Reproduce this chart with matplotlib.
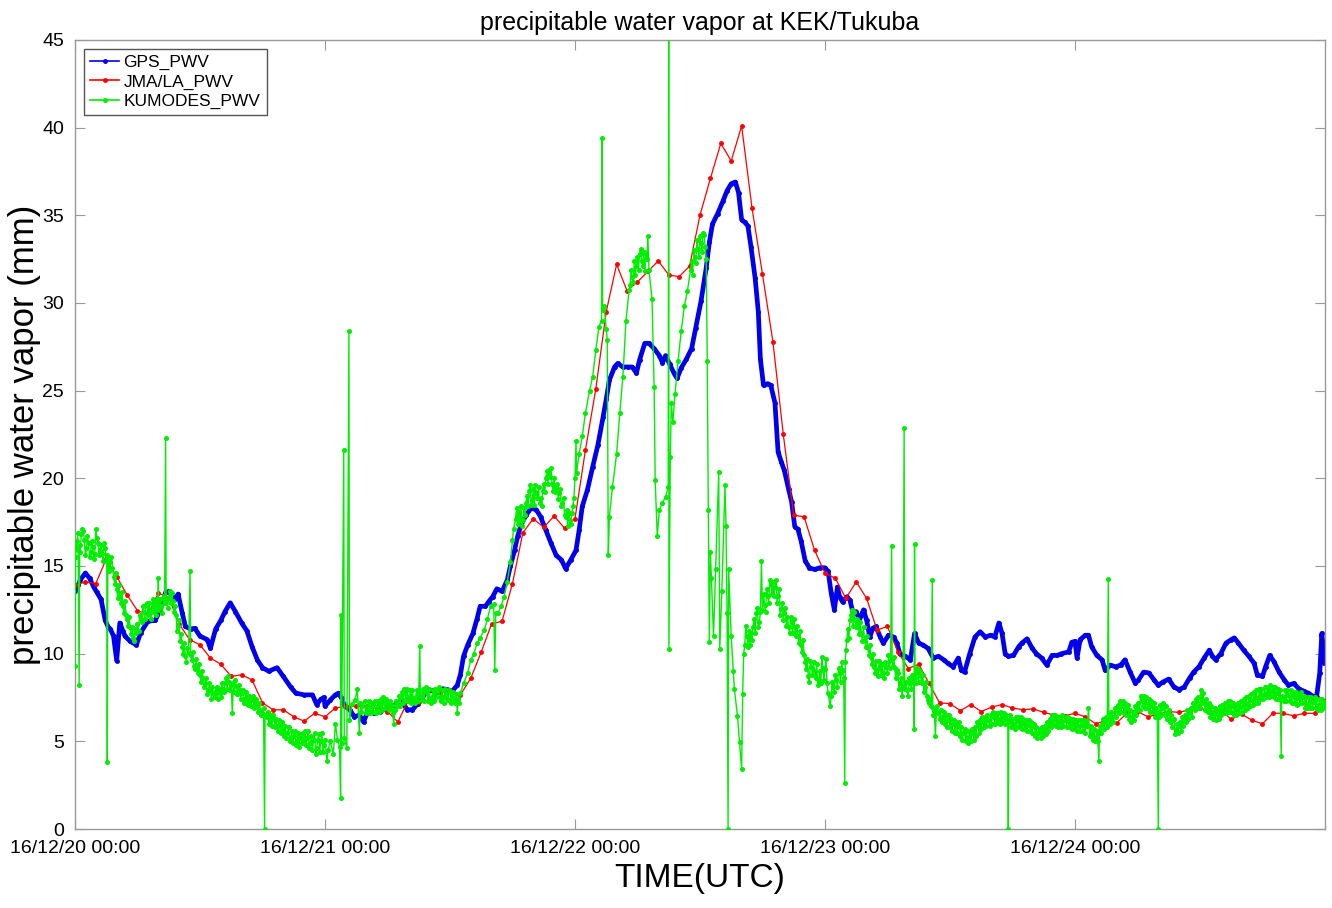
import matplotlib
matplotlib.use('Agg')
import matplotlib.pyplot as plt
import matplotlib.dates as mdates
import pandas as pd

plt.rcParams['font.family'] = ['Liberation Sans', 'DejaVu Sans']

start = pd.Timestamp('2016-12-20 00:00')

# JMA/LA_PWV, hourly values from 16/12/20 00:00
jma_pwv = [13.9, 14.1, 14.0, 15.4, 14.4, 13.35, 12.45, 12.25, 13.45, 13.2,
           11.7, 10.8, 10.5, 9.75, 9.4, 8.7, 8.8, 8.5, 7.2, 6.8,
           6.8, 6.4, 6.15, 6.6, 6.4, 6.9, 7.0, 7.0, 7.0, 6.9,
           6.7, 6.1, 7.35, 7.25, 7.3, 7.75, 7.95, 7.65, 8.6, 10.1,
           11.7, 11.85, 14.0, 16.9, 17.7, 17.2, 17.85, 17.15, 17.7, 21.6,
           25.1, 29.5, 32.2, 30.7, 31.2, 31.8, 32.4, 31.6, 31.5, 32.1,
           35.0, 37.1, 39.1, 38.1, 40.1, 35.4, 31.65, 27.8, 22.5, 17.9,
           17.8, 15.9, 14.6, 14.3, 13.15, 14.1, 13.15, 11.35, 11.55, 10.1,
           9.15, 9.4, 8.3, 7.2, 7.15, 6.75, 7.1, 6.7, 6.95, 7.1,
           6.9, 6.8, 6.85, 6.65, 6.5, 6.45, 6.6, 6.4, 6.0, 6.2,
           6.05, 6.6, 6.7, 6.4, 6.55, 6.7, 6.65, 6.8, 6.9, 6.7,
           6.8, 6.25, 6.55, 6.2, 6.0, 6.6, 6.6, 6.45, 6.6, 6.6, 7.3]
jma_hours = list(range(len(jma_pwv)))

# GPS_PWV (hours after start, mm)
gps_hours = [0, 0.3, 0.5, 1.0, 1.4, 1.8, 2.1, 2.5, 2.9, 3.2, 3.4, 3.7, 4.0, 4.3, 4.6, 4.8,
             5.3, 5.9, 6.3, 7.0, 7.7, 8.2, 8.7, 9.0, 9.3, 9.6, 9.9, 10.3, 10.6, 11.1, 11.5,
             12.0, 12.7, 13.0, 13.5, 14.0, 14.4, 14.9, 15.4, 16.0, 16.5, 17.0, 17.5, 18.0,
             18.6, 19.4, 20.0, 20.7, 21.2, 22.0, 22.8, 23.2, 23.6, 23.9, 24.0, 24.5, 25.0,
             25.3, 25.6, 25.9, 26.4, 26.8, 27.3, 27.7, 28.1, 28.7, 29.3, 30.0, 30.6, 31.3,
             31.9, 32.4, 32.9, 33.3, 33.8, 34.3, 34.8, 35.3, 35.8, 36.2, 36.7, 37.0, 37.3,
             37.7, 38.2, 38.6, 38.9, 39.4, 39.7, 40.1, 40.5, 41.0, 41.5, 41.8, 42.2, 42.5,
             42.8, 43.3, 43.8, 44.3, 44.7, 45.2, 45.7, 46.2, 46.7, 47.1, 47.6, 48.1, 48.4,
             48.7, 49.2, 49.7, 50.2, 50.7, 51.0, 51.3, 51.8, 52.1, 52.6, 53.1, 53.5, 53.9,
             54.2, 54.7, 55.1, 55.6, 56.1, 56.4, 56.7, 57.1, 57.5, 57.8, 58.2, 58.7, 59.2,
             59.6, 60.1, 60.6, 60.9, 61.2, 61.7, 62.2, 62.6, 63.0, 63.4, 63.7, 64.0, 64.3,
             64.6, 64.9, 65.3, 65.6, 65.8, 66.1, 66.5, 66.8, 67.2, 67.5, 67.8, 68.1, 68.5,
             68.8, 69.1, 69.4, 69.7, 70.1, 70.5, 71.0, 71.5, 72.0, 72.3, 72.6, 72.9, 73.2,
             73.4, 73.7, 74.1, 74.4, 74.7, 75.0, 75.3, 75.7, 76.0, 76.3, 76.6, 76.9, 77.3,
             77.6, 78.1, 78.6, 78.9, 79.2, 79.7, 80.2, 80.6, 81.0, 81.4, 81.9, 82.4, 82.9,
             83.4, 83.8, 84.3, 84.8, 85.1, 85.4, 85.9, 86.4, 86.9, 87.4, 87.9, 88.3, 88.7,
             89.0, 89.3, 89.6, 90.1, 90.6, 90.9, 91.4, 91.9, 92.3, 92.8, 93.3, 93.8, 94.3,
             94.7, 95.4, 95.7, 96.0, 96.2, 96.5, 97.0, 97.3, 97.6, 98.1, 98.6, 98.9, 99.4,
             99.9, 100.4, 100.8, 101.3, 101.8, 102.1, 102.6, 103.1, 103.6, 104.0, 104.5,
             105.0, 105.5, 106.0, 106.5, 107.0, 107.4, 107.9, 108.4, 108.9, 109.2, 109.5,
             110.0, 110.5, 111.0, 111.3, 111.7, 112.2, 112.7, 113.2, 113.5, 114.0, 114.3,
             114.7, 115.1, 115.6, 116.1, 116.5, 117.0, 117.5, 118.0, 118.4, 118.9, 119.2,
             119.5, 119.7, 119.9, 120.0]
gps_pwv = [13.6, 13.9, 14.2, 14.6, 14.3, 13.8, 13.5, 13.1, 11.9, 11.5, 11.4, 11.0, 9.6, 11.75, 11.3, 11.0,
           10.7, 10.5, 11.2, 11.85, 11.9, 12.5, 13.5, 13.55, 13.3, 13.1, 13.4, 12.3, 11.55, 11.4, 11.45,
           11.0, 10.8, 10.3, 11.4, 11.9, 12.4, 12.9, 12.4, 11.75, 11.3, 10.4, 9.65, 9.2,
           9.0, 9.2, 8.7, 8.1, 7.75, 7.65, 7.65, 7.1, 7.4, 7.5, 7.0, 7.35, 7.65,
           7.75, 7.45, 7.0, 6.8, 6.4, 6.5, 6.1, 6.7, 6.6, 6.7, 6.9, 7.05, 7.35,
           6.8, 6.8, 7.15, 7.45, 7.85, 7.9, 7.85, 8.0, 7.95, 7.85, 8.2, 8.8, 9.85,
           10.5, 11.15, 12.0, 12.7, 12.7, 12.95, 13.25, 13.7, 13.55, 14.2, 15.0, 15.9, 16.7,
           17.3, 17.9, 18.3, 18.2, 17.8, 17.05, 16.3, 15.6, 15.35, 14.85, 15.35, 15.9, 17.05,
           18.4, 19.35, 20.65, 21.9, 23.5, 24.5, 25.6, 26.35, 26.55, 26.35, 26.35, 26.35, 26.0,
           26.75, 27.7, 27.7, 27.4, 27.0, 26.6, 27.0, 26.5, 26.0, 25.7, 26.3, 26.8, 27.4,
           28.6, 30.1, 32.0, 33.45, 34.5, 35.1, 35.8, 36.4, 36.8, 36.9, 36.3, 34.75, 34.6,
           34.4, 33.2, 31.4, 29.5, 26.8, 25.3, 25.4, 25.3, 24.3, 21.5, 20.95, 20.45, 19.4,
           18.65, 17.25, 17.1, 16.45, 15.3, 14.9, 14.8, 14.9, 14.9, 14.7, 13.45, 12.5, 13.8,
           13.25, 12.95, 13.25, 13.05, 12.3, 12.4, 11.9, 12.5, 11.9, 10.95, 11.45, 11.55, 10.95,
           10.6, 11.05, 10.95, 10.6, 10.0, 9.85, 9.65, 11.15, 10.6, 10.5, 10.3, 9.75, 9.85,
           9.65, 9.45, 9.25, 9.75, 9.05, 8.95, 10.0, 10.95, 11.25, 10.95, 11.05, 10.95, 11.75,
           11.15, 10.0, 9.85, 9.9, 10.4, 10.6, 10.85, 10.3, 10.0, 9.75, 9.35, 9.9, 9.9,
           10.0, 10.1, 10.65, 10.7, 9.75, 10.8, 11.05, 11.05, 10.4, 9.9, 9.65, 9.05, 9.35,
           9.25, 9.35, 9.65, 8.95, 8.3, 8.5, 8.95, 8.9, 8.5, 8.2, 8.4,
           8.55, 8.1, 7.95, 8.1, 8.6, 8.95, 9.25, 9.75, 10.2, 9.85, 9.65,
           10.0, 10.6, 10.8, 10.9, 10.6, 10.2, 9.85, 9.45, 8.8, 8.7, 9.25,
           9.9, 9.55, 8.95, 8.5, 8.2, 8.3, 8.0, 7.85, 7.75, 7.55, 7.55,
           8.9, 11.15, 10.0, 9.45]

# KUMODES_PWV (hours after start, mm), spikes included
kumodes_hours = [0.0, 0.1, 0.2, 0.3, 0.4, 0.45, 0.6, 0.7, 0.9, 1.1, 1.3, 1.5, 1.7, 1.9, 2.0, 2.2,
                 2.4, 2.6, 2.9, 3.05, 3.1, 3.15, 3.4, 3.7, 4.0, 4.3, 4.6, 5.0, 5.3, 5.6, 5.9,
                 6.3, 6.6, 6.9, 7.2, 7.4, 7.7, 7.95, 8.0, 8.05, 8.3, 8.6, 8.7, 8.75, 9.0, 9.3,
                 9.6, 9.9, 10.3, 10.6, 10.9, 11.05, 11.1, 11.2, 11.5, 11.7, 12.0, 12.3, 12.5,
                 12.8, 13.0, 13.3, 13.5, 13.9, 14.2, 14.4, 14.7, 15.0, 15.1, 15.2, 15.5, 15.8,
                 16.0, 16.3, 16.5, 16.8, 17.0, 17.3, 17.5, 17.8, 18.0, 18.2, 18.25, 18.4, 18.7,
                 19.1, 19.4, 19.7, 20.0, 20.4, 20.7, 21.0, 21.3, 21.6, 21.9, 22.3, 22.6, 22.9,
                 23.2, 23.4, 23.6, 23.8, 24.0, 24.2, 24.3, 24.5, 24.8, 25.0, 25.2, 25.4, 25.5,
                 25.55, 25.6, 25.8, 25.85, 26.1, 26.3, 26.35, 26.6, 26.9, 27.1, 27.3, 27.4,
                 27.6, 28.0, 28.1, 28.4, 28.7, 29.0, 29.3, 29.7, 30.0, 30.3, 30.6, 30.9, 31.3,
                 31.7, 32.0, 32.2, 32.5, 32.7, 33.1, 33.15, 33.3, 33.6, 33.8, 34.1, 34.3, 34.6,
                 34.8, 35.1, 35.3, 35.6, 35.8, 36.0, 36.2, 36.5, 36.7, 36.8, 37.0, 37.3, 37.7,
                 38.0, 38.3, 38.6, 38.9, 39.3, 39.6, 39.9, 40.2, 40.3, 40.4, 40.6, 40.9, 41.2,
                 41.5, 41.8, 42.0, 42.3, 42.6, 43.0, 43.3, 43.6, 43.9, 44.3, 44.6, 44.9, 45.2,
                 45.5, 45.8, 46.2, 46.5, 46.8, 47.1, 47.5, 47.8, 48.0, 48.1, 48.15, 48.4, 48.7,
                 49.0, 49.4, 49.7, 50.0, 50.3, 50.55, 50.6, 50.65, 50.8, 51.0, 51.1, 51.2, 51.3,
                 51.6, 52.0, 52.3, 52.6, 52.9, 53.2, 53.5, 53.9, 54.2, 54.5, 54.8, 55.0, 55.1,
                 55.4, 55.6, 55.7, 55.9, 56.1, 56.4, 56.7, 56.95, 57.0, 57.02, 57.15, 57.25,
                 57.4, 57.6, 57.9, 58.2, 58.5, 58.8, 59.1, 59.5, 59.8, 60.1, 60.4, 60.6, 60.7,
                 60.8, 60.9, 61.0, 61.1, 61.3, 61.5, 61.8, 61.9, 62.1, 62.4, 62.5, 62.6, 62.7,
                 62.75, 63.0, 63.2, 63.3, 63.6, 63.8, 64.0, 64.1, 64.2, 64.5, 64.8, 65.1, 65.4,
                 65.7, 65.9, 66.0, 66.2, 66.5, 66.8, 67.2, 67.5, 67.8, 68.1, 68.5, 68.8, 69.1,
                 69.4, 69.7, 70.1, 70.4, 70.7, 71.0, 71.4, 71.7, 72.0, 72.3, 72.5, 72.8, 73.1,
                 73.4, 73.7, 73.9, 73.95, 74.1, 74.4, 74.6, 74.9, 75.2, 75.5, 75.8, 76.1, 76.4,
                 76.7, 77.0, 77.3, 77.6, 77.9, 78.3, 78.4, 78.45, 78.6, 78.9, 79.2, 79.5, 79.6,
                 79.65, 79.9, 80.2, 80.5, 80.55, 80.6, 80.65, 80.9, 81.2, 81.6, 81.9, 82.2, 82.3,
                 82.35, 82.5, 82.6, 82.7, 82.9, 83.3, 83.8, 84.3, 84.8, 85.3, 85.8, 86.2, 86.7,
                 87.2, 87.7, 88.2, 88.7, 89.1, 89.55, 89.6, 89.65, 90.1, 90.6, 91.1, 91.5, 92.0,
                 92.5, 93.0, 93.5, 94.0, 94.5, 95.0, 95.4, 95.9, 96.4, 96.7, 97.2, 97.3, 97.6,
                 98.0, 98.3, 98.35, 98.6, 98.9, 99.2, 99.25, 99.6, 100.0, 100.5, 101.0, 101.5,
                 102.0, 102.4, 102.9, 103.4, 103.9, 104.0, 104.05, 104.4, 104.9, 105.4, 105.7,
                 106.0, 106.5, 107.0, 107.4, 107.9, 108.3, 108.7, 109.2, 109.7, 110.2, 110.6,
                 111.1, 111.6, 112.1, 112.5, 113.0, 113.5, 114.0, 114.4, 114.9, 115.4, 115.8,
                 115.85, 116.0, 116.5, 117.0, 117.5, 117.9, 118.4, 118.9, 119.4, 119.9, 120.0]
kumodes_pwv = [9.3, 16.0, 16.4, 15.9, 8.2, 16.2, 16.8, 17.1, 16.5, 16.0, 16.3, 15.8, 16.1, 15.7, 17.1, 16.3,
               15.9, 15.7, 16.0, 15.6, 3.8, 15.4, 15.2, 14.4, 13.7, 13.3, 12.7, 12.0, 11.5, 10.9, 11.2,
               12.0, 12.4, 12.9, 12.3, 12.6, 13.0, 12.5, 14.3, 12.6, 12.7, 12.9, 22.3, 13.0, 13.2, 13.45,
               12.7, 11.55, 10.4, 9.85, 10.05, 14.7, 9.9, 9.65, 9.1, 9.3, 8.8, 8.6, 8.3,
               7.9, 7.95, 7.7, 7.85, 7.75, 8.0, 8.3, 8.7, 8.2, 6.6, 8.3, 8.15, 7.9,
               7.75, 7.4, 7.55, 7.3, 7.4, 7.2, 7.0, 6.8, 6.6, 0.0, 6.5, 6.4, 6.2,
               6.25, 5.9, 5.85, 5.7, 5.5, 5.2, 5.3, 5.0, 5.2, 5.5, 5.2, 4.9, 5.1,
               4.6, 5.4, 5.0, 4.4, 5.1, 3.85, 4.5, 5.0, 4.3, 6.0, 5.1, 4.7, 1.75,
               12.2, 4.9, 21.6, 5.2, 4.6, 28.4, 6.2, 7.15, 7.35, 8.0, 5.45, 7.2,
               7.0, 6.8, 7.0, 6.9, 7.0, 6.8, 7.05, 7.2, 7.15, 6.9, 6.0, 7.0, 7.55,
               7.75, 7.3, 7.9, 7.4, 7.55, 10.45, 7.6, 7.35, 7.9, 7.75, 7.4, 7.55, 8.0,
               7.85, 7.3, 7.55, 7.7, 7.35, 7.8, 7.55, 7.2, 6.6, 7.4, 7.75, 8.3, 8.9,
               9.65, 10.0, 10.6, 10.9, 11.35, 12.0, 12.7, 12.85, 9.05, 12.3, 12.3, 12.7, 13.25,
               14.1, 15.2, 16.5, 17.7, 18.1, 17.6, 18.6, 19.3, 18.75, 19.15, 18.6, 19.3, 20.0,
               20.5, 19.7, 19.5, 19.15, 18.6, 17.8, 17.6, 18.4, 20.0, 22.1, 20.3, 21.4, 22.4,
               23.7, 25.0, 25.8, 27.3, 28.65, 29.0, 39.4, 29.6, 29.8, 28.5, 27.9, 15.6, 17.8,
               19.5, 21.4, 23.7, 25.8, 29.0, 30.75, 31.5, 32.1, 32.8, 32.1, 32.8, 33.8, 31.9,
               30.2, 25.2, 19.9, 16.7, 18.2, 18.6, 18.95, 19.5, 47.0, 10.25, 21.2, 24.3,
               23.2, 24.8, 26.7, 28.4, 29.8, 30.7, 31.9, 32.6, 33.1, 33.4, 33.9, 32.5, 26.7,
               18.2, 10.65, 15.8, 14.3, 11.0, 14.8, 20.35, 10.25, 13.55, 19.6, 17.3, 12.3, 0.0,
               14.8, 11.0, 9.0, 8.0, 6.45, 4.95, 3.4, 7.7, 10.0, 11.0, 10.5, 11.5, 12.3,
               11.8, 15.3, 12.5, 12.8, 13.3, 14.0, 13.8, 13.3, 12.55, 12.3, 11.5, 11.8, 11.5,
               11.0, 10.5, 9.5, 8.75, 9.25, 9.0, 8.5, 9.8, 9.1, 7.75, 7.0, 8.1, 8.5,
               8.9, 9.05, 2.6, 9.5, 10.8, 11.9, 12.5, 11.9, 11.55, 11.15, 10.8, 10.4, 9.8,
               9.25, 9.05, 9.25, 8.9, 9.25, 9.65, 16.15, 9.7, 9.8, 9.05, 8.3, 8.1, 22.85,
               8.0, 7.9, 8.3, 8.5, 5.7, 16.25, 8.6, 8.9, 8.7, 8.1, 7.35, 7.0, 14.2,
               6.9, 6.8, 5.3, 6.7, 6.6, 6.4, 6.2, 6.0, 5.85, 5.45, 5.25, 5.45, 5.85,
               6.1, 6.2, 6.4, 6.3, 6.4, 6.2, 0.0, 6.1, 6.0, 6.1, 6.0, 5.95, 5.85,
               5.45, 5.55, 6.0, 6.3, 6.1, 6.2, 6.1, 6.0, 5.85, 5.95, 5.85, 6.9, 5.45,
               5.25, 3.9, 5.5, 6.0, 6.1, 14.25, 6.2, 6.4, 6.8, 7.0, 6.9, 6.4,
               6.8, 7.35, 7.15, 7.0, 6.6, 0.0, 6.7, 6.9, 6.6, 6.2, 5.65,
               5.85, 6.2, 6.6, 7.0, 7.15, 7.75, 7.0, 6.6, 6.5, 6.8, 6.9,
               7.0, 6.8, 7.0, 7.15, 7.35, 7.45, 7.65, 7.75, 7.85, 7.75, 4.15,
               7.6, 7.55, 7.65, 7.55, 7.45, 7.55, 7.15, 7.25, 7.05, 7.15, 7.25]

# extra KUMODES readings inside the scattered band (hour, mm)
kumodes_extra = [
    (0.05, 15.5), (0.25, 16.9), (0.5, 15.8), (0.8, 17.0), (1.0, 15.6), (1.2, 16.7), (1.4, 15.5),
    (1.6, 16.4), (1.8, 15.4), (2.1, 16.6), (2.3, 15.6), (2.5, 16.2), (2.7, 15.3), (2.8, 16.3),
    (3.0, 15.3), (3.3, 14.7), (3.5, 15.5), (3.6, 14.9), (3.8, 14.0), (3.9, 14.6), (4.1, 13.2),
    (4.2, 13.9), (4.4, 12.9), (4.5, 13.5), (4.7, 12.3), (4.8, 13.0), (4.9, 12.2), (5.1, 11.6),
    (5.2, 12.1), (5.4, 11.1), (5.5, 11.5), (5.7, 10.7), (5.8, 11.4), (6.0, 11.7), (6.1, 11.3),
    (6.2, 12.2), (6.4, 11.8), (6.5, 12.7), (6.7, 12.0), (6.8, 12.8), (7.0, 12.2), (7.1, 12.9),
    (7.3, 12.0), (7.5, 13.1), (7.6, 12.4), (7.8, 12.2), (7.9, 13.1), (8.2, 13.1), (8.4, 12.3),
    (8.5, 13.3), (8.9, 12.6), (9.1, 13.6), (9.2, 12.9), (9.4, 13.0), (9.5, 12.4), (9.7, 12.2),
    (9.8, 11.3), (10.0, 11.9), (10.1, 10.7), (10.2, 11.1), (10.4, 10.0), (10.5, 10.6),
    (10.7, 9.5), (10.8, 10.3), (11.3, 10.1), (11.4, 9.3), (11.6, 9.7), (11.8, 8.9), (11.9, 9.4),
    (12.1, 8.4), (12.2, 9.0), (12.4, 8.1), (12.6, 8.6), (12.7, 7.7), (12.9, 8.3), (13.1, 7.4),
    (13.2, 8.1), (13.4, 7.5), (13.6, 8.1), (13.7, 7.4), (13.8, 8.0), (14.0, 7.5), (14.1, 8.3),
    (14.3, 7.8), (14.5, 8.6), (14.6, 8.0), (14.8, 8.4), (14.9, 7.9), (15.3, 7.8), (15.4, 8.5),
    (15.6, 7.7), (15.7, 8.2), (15.9, 7.4), (16.1, 7.9), (16.2, 7.2), (16.4, 7.8), (16.6, 7.1),
    (16.7, 7.6), (16.9, 7.0), (17.1, 7.6), (17.2, 6.9), (17.4, 7.4), (17.6, 6.7), (17.7, 7.2),
    (17.9, 6.5), (18.1, 6.9), (18.5, 6.7), (18.6, 6.0), (18.8, 6.5), (18.9, 5.9), (19.0, 6.5),
    (19.2, 5.8), (19.3, 6.3), (19.5, 5.6), (19.6, 6.2), (19.8, 5.5), (19.9, 6.1), (20.1, 5.3),
    (20.2, 5.9), (20.3, 5.2), (20.5, 5.8), (20.6, 5.0), (20.8, 5.6), (20.9, 4.9), (21.1, 5.6),
    (21.2, 4.8), (21.4, 5.5), (21.5, 4.7), (21.7, 5.4), (21.8, 4.9), (22.0, 5.0), (22.1, 5.6),
    (22.2, 4.8), (22.4, 5.6), (22.5, 4.6), (22.7, 5.3), (22.8, 4.5), (23.0, 5.5), (23.1, 4.3),
    (23.3, 5.1), (23.5, 4.4), (23.7, 5.5), (23.9, 4.8),
    (27.5, 6.7), (27.8, 7.3), (27.9, 6.6), (28.2, 7.3), (28.3, 6.6), (28.5, 7.2), (28.6, 6.7),
    (28.8, 7.3), (28.9, 6.6), (29.1, 7.3), (29.2, 6.7), (29.4, 7.4), (29.5, 6.8), (29.6, 7.5),
    (29.8, 6.9), (29.9, 7.4), (30.1, 6.8), (30.2, 7.3), (30.4, 7.1), (30.5, 6.6), (30.7, 6.8),
    (30.8, 7.3), (31.0, 7.2), (31.1, 7.6), (31.2, 7.0), (31.4, 7.8), (31.5, 7.2), (31.6, 8.0),
    (31.8, 7.4), (31.9, 8.0), (32.1, 7.5), (32.3, 7.2), (32.4, 7.9), (32.6, 7.2), (32.8, 7.9),
    (32.9, 7.3), (33.0, 7.8), (33.4, 8.0), (33.5, 7.3), (33.7, 8.1), (33.9, 7.3), (34.0, 8.0),
    (34.2, 7.2), (34.4, 7.9), (34.5, 7.3), (34.7, 7.5), (34.9, 8.1), (35.0, 7.5), (35.2, 7.9),
    (35.4, 7.2), (35.5, 8.0), (35.7, 7.4), (35.9, 7.9), (36.1, 7.2), (36.3, 7.8), (36.4, 7.3),
    (36.6, 7.7), (36.9, 7.2),
    (42.1, 17.1), (42.4, 18.3), (42.5, 17.4), (42.7, 17.6), (42.8, 18.4), (42.9, 17.3),
    (43.1, 18.3), (43.2, 17.9), (43.4, 19.0), (43.5, 18.4), (43.7, 19.6), (43.8, 18.5),
    (44.0, 19.4), (44.1, 18.5), (44.2, 19.6), (44.4, 18.9), (44.5, 19.5), (44.7, 18.9),
    (44.8, 18.4), (45.0, 19.7), (45.1, 19.2), (45.3, 20.4), (45.4, 19.7), (45.6, 20.1),
    (45.7, 20.6), (45.9, 19.3), (46.0, 20.0), (46.1, 19.2), (46.3, 19.7), (46.4, 18.8),
    (46.6, 19.4), (46.7, 18.4), (46.9, 18.9), (47.0, 17.9), (47.2, 18.2), (47.3, 17.3),
    (47.4, 18.0), (47.6, 17.4), (47.7, 18.0), (47.9, 18.9),
    (53.3, 31.0), (53.4, 31.9), (53.6, 31.2), (53.7, 32.4), (53.8, 31.6), (54.0, 32.6),
    (54.1, 31.9), (54.3, 33.1), (54.4, 32.4), (54.6, 32.9), (54.7, 31.8), (54.9, 32.5),
    (59.2, 32.4), (59.3, 31.6), (59.4, 33.0), (59.6, 32.3), (59.7, 33.6), (59.9, 32.6),
    (60.0, 33.8), (60.2, 32.9), (60.3, 34.0), (60.5, 33.2),
    (64.3, 10.5), (64.4, 11.6), (64.6, 10.4), (64.7, 11.3), (64.9, 11.2), (65.0, 10.8),
    (65.2, 12.0), (65.3, 11.2), (65.5, 12.6), (65.6, 11.5), (65.8, 12.4), (66.1, 13.4),
    (66.3, 12.4), (66.4, 13.7), (66.6, 12.9), (66.7, 14.2), (66.9, 13.4), (67.0, 14.1),
    (67.1, 13.3), (67.3, 14.2), (67.4, 12.9), (67.6, 13.7), (67.7, 12.2), (67.9, 12.9),
    (68.0, 11.9), (68.2, 12.6), (68.3, 11.6), (68.4, 12.1), (68.6, 11.2), (68.7, 12.1),
    (68.9, 11.2), (69.0, 12.0), (69.2, 11.0), (69.3, 11.6), (69.5, 10.6), (69.6, 11.3),
    (69.8, 10.1), (69.9, 10.8), (70.0, 9.9), (70.2, 9.1), (70.3, 9.7), (70.5, 8.4), (70.6, 9.6),
    (70.8, 8.8), (70.9, 9.5), (71.1, 8.6), (71.2, 9.4), (71.3, 8.2), (71.5, 9.0), (71.6, 8.3),
    (71.8, 9.2), (71.9, 8.5), (72.1, 9.7), (72.2, 8.3),
    (72.6, 7.6), (72.7, 8.4), (72.9, 7.8), (73.0, 8.8), (73.2, 8.1), (73.3, 9.2), (73.5, 8.4),
    (73.6, 9.5), (73.8, 8.6), (74.0, 10.2), (74.2, 11.4), (74.3, 10.9), (74.5, 12.2),
    (74.7, 11.6), (74.8, 12.4), (75.0, 11.5), (75.1, 12.0), (75.3, 11.1), (75.4, 11.8),
    (75.6, 10.7), (75.7, 11.5), (75.9, 10.4), (76.0, 11.0), (76.2, 9.9), (76.3, 10.5),
    (76.5, 9.4), (76.6, 10.0), (76.8, 8.9), (76.9, 9.6), (77.1, 8.7), (77.2, 9.6), (77.4, 8.8),
    (77.5, 9.4), (77.7, 8.6), (77.8, 9.5), (78.0, 8.9), (78.1, 9.9), (78.2, 9.2), (78.5, 9.3),
    (78.7, 9.2), (78.8, 8.6), (79.0, 8.9), (79.1, 8.0), (79.3, 8.6), (79.4, 7.6), (79.8, 8.4),
    (80.0, 7.6), (80.1, 8.6), (80.3, 8.0), (80.4, 8.8), (80.7, 8.3), (80.8, 9.2), (81.0, 8.4),
    (81.1, 9.0), (81.3, 8.3), (81.4, 8.8), (81.5, 7.8), (81.7, 8.4), (81.8, 7.6), (82.0, 7.2),
    (82.1, 7.4), (82.4, 6.5), (82.8, 7.0),
    (83.0, 6.3), (83.1, 6.8), (83.2, 6.1), (83.4, 6.7), (83.5, 6.0), (83.6, 6.5), (83.7, 5.8),
    (83.9, 6.5), (84.0, 5.8), (84.1, 6.3), (84.2, 5.6), (84.4, 6.2), (84.5, 5.5), (84.6, 6.1),
    (84.7, 5.5), (84.9, 6.1), (85.0, 5.3), (85.1, 5.8), (85.2, 5.1), (85.4, 5.7), (85.5, 5.0),
    (85.6, 5.6), (85.7, 4.9), (85.9, 5.6), (86.0, 5.0), (86.1, 5.7), (86.3, 5.1), (86.4, 5.8),
    (86.5, 5.3), (86.6, 6.1), (86.8, 5.5), (86.9, 6.2), (87.0, 5.7), (87.1, 6.4), (87.3, 5.8),
    (87.4, 6.4), (87.5, 5.9), (87.6, 6.5), (87.8, 5.9), (87.9, 6.5), (88.0, 6.0), (88.1, 6.7),
    (88.3, 6.0), (88.4, 6.6), (88.5, 6.1), (88.6, 6.6), (88.8, 6.0), (88.9, 6.7), (89.0, 6.1),
    (89.2, 6.6), (89.3, 6.0), (89.4, 6.5), (89.8, 6.5), (89.9, 5.8), (90.0, 6.3), (90.2, 5.7),
    (90.3, 6.4), (90.4, 5.8), (90.5, 6.4), (90.7, 5.8), (90.8, 6.4), (90.9, 5.7), (91.0, 6.3),
    (91.2, 5.7), (91.3, 6.2), (91.4, 5.6), (91.6, 6.2), (91.7, 5.6), (91.8, 6.1), (91.9, 5.5),
    (92.1, 6.0), (92.2, 5.3), (92.3, 5.8), (92.4, 5.2), (92.6, 5.7), (92.7, 5.2), (92.8, 5.8),
    (92.9, 5.3), (93.1, 5.9), (93.2, 5.4), (93.3, 6.1), (93.4, 5.6), (93.6, 6.3), (93.7, 5.8),
    (93.8, 6.5), (93.9, 6.0), (94.1, 6.5), (94.2, 5.9), (94.3, 6.4), (94.4, 5.8), (94.6, 6.4),
    (94.7, 5.8), (94.8, 6.5), (94.9, 5.9), (95.1, 6.4), (95.2, 5.8), (95.3, 6.4), (95.5, 5.8),
    (95.6, 6.3), (95.7, 5.7), (95.8, 6.3), (96.0, 5.7), (96.1, 6.2), (96.2, 5.6), (96.3, 6.2),
    (96.5, 5.6), (96.6, 6.2), (96.8, 5.6), (96.9, 6.2), (97.0, 5.5), (97.1, 6.1), (97.4, 5.3),
    (97.5, 5.9), (97.7, 5.1), (97.8, 5.7), (97.9, 5.0), (98.1, 5.6), (98.2, 5.0), (98.4, 5.9),
    (98.5, 5.5), (98.7, 6.3), (98.8, 5.7), (99.0, 6.4), (99.1, 5.8), (99.3, 6.5), (99.4, 6.0),
    (99.5, 6.7), (99.7, 6.1), (99.8, 6.9), (99.9, 6.4), (100.1, 7.1), (100.2, 6.6),
    (100.3, 7.3), (100.4, 6.7), (100.6, 7.3), (100.7, 6.6), (100.8, 7.2), (100.9, 6.5),
    (101.1, 7.1), (101.2, 6.3), (101.3, 6.8), (101.4, 6.1), (101.6, 6.7), (101.7, 6.2),
    (101.8, 7.0), (101.9, 6.5), (102.1, 7.2), (102.2, 6.8), (102.3, 7.6), (102.5, 7.0),
    (102.6, 7.6), (102.7, 6.9), (102.8, 7.5), (103.0, 6.9), (103.1, 7.4), (103.2, 6.7),
    (103.3, 7.3), (103.5, 6.7), (103.6, 7.2), (103.7, 6.4), (103.8, 6.9), (104.1, 6.4),
    (104.2, 7.1), (104.3, 6.5), (104.5, 7.2), (104.6, 6.5), (104.7, 7.0), (104.8, 6.3),
    (105.0, 6.8), (105.1, 6.1), (105.2, 6.5), (105.3, 5.8), (105.5, 6.3), (105.6, 5.4),
    (105.8, 6.0), (105.9, 5.5), (106.1, 6.1), (106.2, 5.6), (106.3, 6.4), (106.4, 5.9),
    (106.6, 6.5), (106.7, 6.1), (106.8, 6.8), (106.9, 6.3), (107.1, 6.9), (107.2, 6.4),
    (107.3, 7.2), (107.5, 6.8), (107.6, 7.4), (107.7, 6.9), (107.8, 7.5), (108.0, 6.9),
    (108.1, 7.9), (108.2, 7.2), (108.4, 7.3), (108.5, 6.8), (108.6, 7.4), (108.8, 6.7),
    (108.9, 7.2), (109.0, 6.4), (109.1, 7.0), (109.3, 6.3), (109.4, 6.9), (109.5, 6.2),
    (109.6, 6.8), (109.8, 6.3), (109.9, 7.0), (110.0, 6.5), (110.1, 7.1), (110.3, 6.6),
    (110.4, 7.2), (110.5, 6.6), (110.7, 7.3), (110.8, 6.7), (110.9, 7.3), (111.0, 6.7),
    (111.2, 7.2), (111.3, 6.5), (111.4, 7.1), (111.5, 6.5), (111.7, 7.2), (111.8, 6.6),
    (111.9, 7.3), (112.0, 6.7), (112.2, 7.4), (112.3, 6.8), (112.4, 7.5), (112.6, 6.9),
    (112.7, 7.6), (112.8, 7.0), (112.9, 7.7), (113.1, 7.1), (113.2, 7.8), (113.3, 7.2),
    (113.4, 7.9), (113.6, 7.2), (113.7, 8.0), (113.8, 7.4), (113.9, 8.0), (114.1, 7.4),
    (114.2, 8.1), (114.3, 7.5), (114.5, 8.1), (114.6, 7.5), (114.7, 8.2), (114.8, 7.6),
    (115.0, 8.1), (115.1, 7.5), (115.2, 8.1), (115.3, 7.4), (115.5, 8.0), (115.6, 7.4),
    (115.7, 7.9), (116.1, 7.3), (116.2, 7.9), (116.3, 7.3), (116.4, 7.9), (116.6, 7.3),
    (116.7, 7.9), (116.8, 7.2), (116.9, 7.8), (117.1, 7.2), (117.2, 7.8), (117.3, 7.1),
    (117.4, 7.7), (117.6, 7.2), (117.7, 7.8), (117.8, 7.2), (118.0, 7.6), (118.1, 6.9),
    (118.2, 7.5), (118.3, 6.9), (118.5, 7.5), (118.6, 6.9), (118.7, 7.5), (118.8, 6.9),
    (119.0, 7.5), (119.1, 6.9), (119.2, 7.4), (119.3, 6.8), (119.5, 7.4), (119.6, 6.8),
    (119.7, 7.4), (119.8, 6.9),
]


def to_time(hours):
    return start + pd.to_timedelta(hours, unit='h')


# merge the main KUMODES readings with the extra ones, in time order
kumodes_all = sorted(list(zip(kumodes_hours, kumodes_pwv)) + kumodes_extra, key=lambda p: p[0])
k_hours = [p[0] for p in kumodes_all]
k_pwv = [p[1] for p in kumodes_all]

fig = plt.figure(figsize=(13.32, 9.08), dpi=100)
ax = fig.add_axes([0.0563, 0.087, 0.9384, 0.869])

ax.plot(to_time(gps_hours), gps_pwv, color='#0000ee', lw=3.4, marker='o', ms=2.5,
        label='GPS_PWV', zorder=2)
ax.plot(to_time(jma_hours), jma_pwv, color='#ff0000', lw=0.9, marker='o', ms=2.5,
        label='JMA/LA_PWV', zorder=3)
ax.plot(to_time(k_hours), k_pwv, color='#00ee00', lw=1.0, marker='o', ms=2.6,
        label='KUMODES_PWV', zorder=4)

ax.set_xlim(start, start + pd.Timedelta(days=5))
ax.set_ylim(0, 45)
ax.set_yticks(range(0, 46, 5))
ax.set_xticks([start + pd.Timedelta(days=d) for d in range(5)])
ax.xaxis.set_major_formatter(mdates.DateFormatter('%y/%m/%d %H:%M'))

ax.tick_params(direction='in', length=7, labelsize=14, top=True, right=True,
               color='#999999', pad=8)
for s in ax.spines.values():
    s.set_color('#999999')
    s.set_linewidth(1.0)

ax.set_title('precipitable water vapor at KEK/Tukuba', fontsize=18, pad=7)
ax.set_xlabel('TIME(UTC)', fontsize=24, labelpad=4)
ax.set_ylabel('precipitable water vapor (mm)', fontsize=25, labelpad=1)

leg = ax.legend(loc='upper left', fontsize=12.5, fancybox=False, framealpha=1,
                edgecolor='#555555', handlelength=1.7, handletextpad=0.25,
                borderaxespad=0.5, labelspacing=0.25, borderpad=0.35)
for h in leg.get_lines():
    h.set_linewidth(1.2)

fig.savefig('out.png', dpi=100)
